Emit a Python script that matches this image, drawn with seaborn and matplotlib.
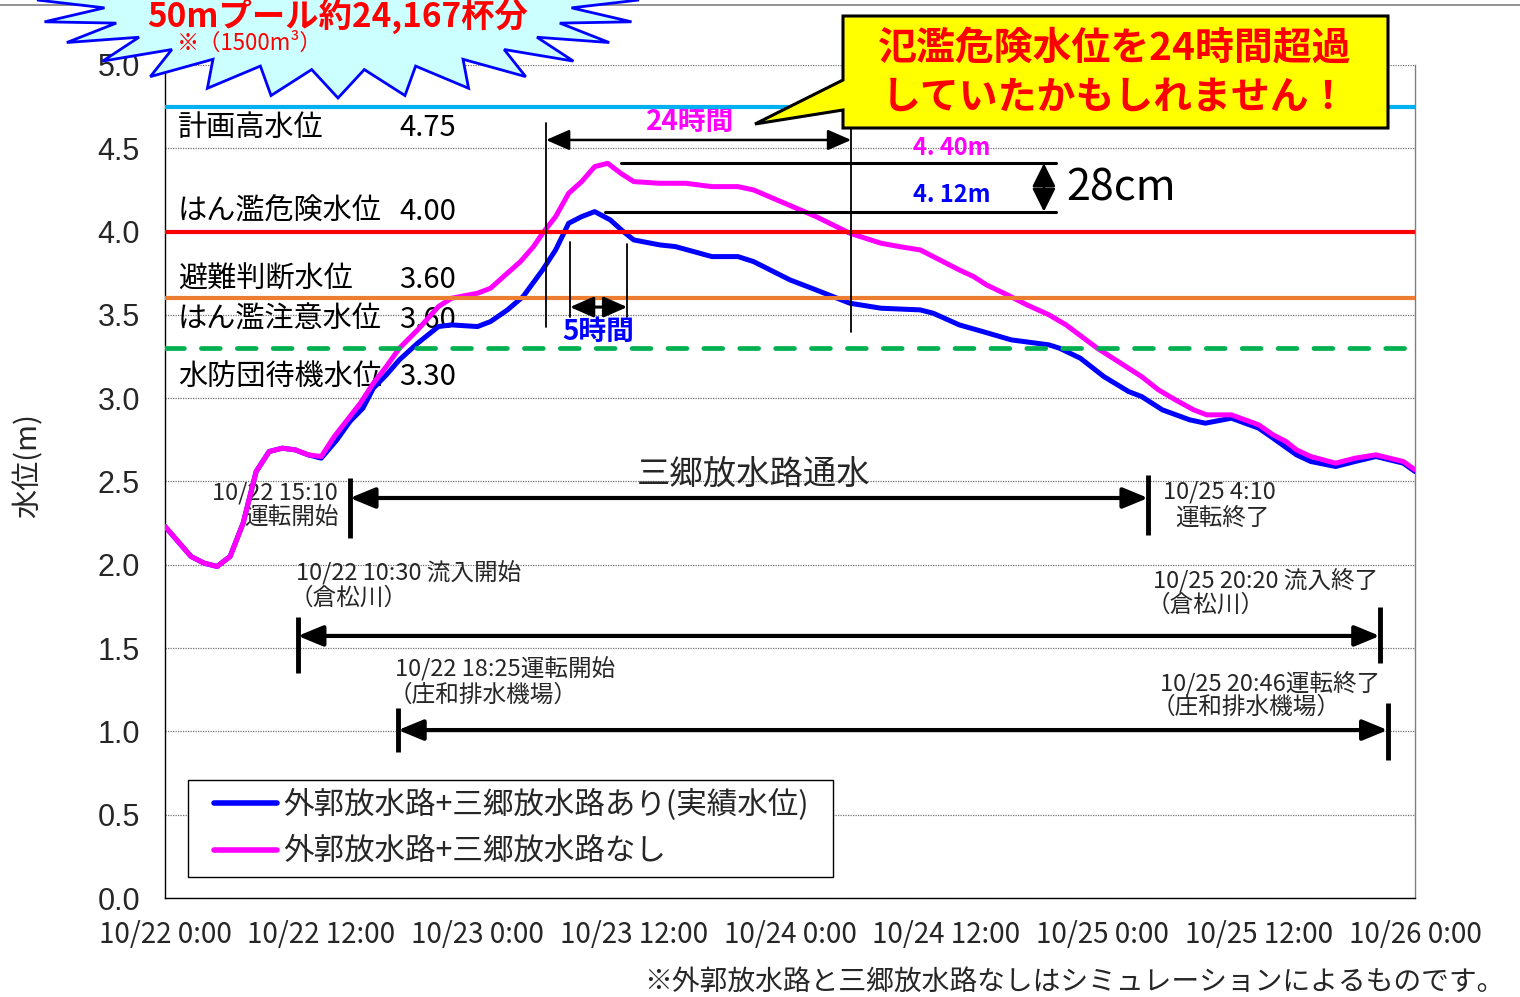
import numpy as np
import pandas as pd
import matplotlib.pyplot as plt
import seaborn as sns
from matplotlib.patches import Polygon, Rectangle

# --- DATA: hours after 10/22 0:00 and water level (m) ---
HOURS_WITH = [0, 2, 3, 4, 5, 6, 7, 8, 9, 10, 11, 12, 13.2, 14.2, 15.2, 16, 17, 18, 19.4, 21,
              22, 24, 25, 26.3, 27.5, 29, 30, 31, 32, 33, 34.2, 35.2, 36, 38, 39.2, 42, 44, 45.2, 48, 50,
              51.3, 52.6, 55, 58, 59, 61, 62.8, 65, 67.9, 68.7, 70.3, 72.1, 74, 75, 76.6, 78.7, 79.9, 81.9, 84, 85.1,
              86.9, 88, 89.9, 91.4, 93, 95.1, 96]
LEVEL_WITH = [2.23, 2.05, 2.01, 1.99, 2.05, 2.25, 2.56, 2.68, 2.70, 2.69, 2.66, 2.64, 2.75, 2.86, 2.94, 3.06, 3.14, 3.23, 3.33, 3.43,
              3.44, 3.43, 3.46, 3.53, 3.61, 3.77, 3.89, 4.05, 4.09, 4.12, 4.07, 4.00, 3.95, 3.92, 3.91, 3.85, 3.85, 3.82, 3.71, 3.65,
              3.61, 3.57, 3.54, 3.53, 3.51, 3.44, 3.40, 3.35, 3.32, 3.30, 3.24, 3.13, 3.04, 3.01, 2.93, 2.87, 2.85, 2.88, 2.82, 2.76,
              2.66, 2.62, 2.59, 2.62, 2.65, 2.61, 2.56]

HOURS_WITHOUT = [0, 2, 3, 4, 5, 6, 7, 8, 9, 10, 11, 12, 13, 14, 15, 16, 17, 18, 19.4, 21,
                 22, 24, 25, 26, 27.3, 28.3, 29, 30, 31, 32, 33, 34, 35, 36, 38, 40, 42, 44, 45.2, 46.7,
                 48.2, 50, 51.3, 52.6, 55, 56.4, 58, 59.5, 61, 62.1, 63.1, 64.7, 66.2, 67.9, 69.2, 70.4, 71.6, 73, 74, 75,
                 76.3, 77.6, 79, 80, 81.9, 84, 85.1, 86.1, 86.9, 88, 89.9, 91.4, 93, 95.1, 96]
LEVEL_WITHOUT = [2.23, 2.05, 2.01, 1.99, 2.05, 2.25, 2.56, 2.68, 2.70, 2.69, 2.66, 2.65, 2.77, 2.87, 2.97, 3.09, 3.19, 3.30, 3.41, 3.55,
                 3.60, 3.63, 3.66, 3.73, 3.82, 3.91, 3.99, 4.09, 4.23, 4.30, 4.39, 4.41, 4.35, 4.30, 4.29, 4.29, 4.27, 4.27, 4.25, 4.20,
                 4.15, 4.09, 4.04, 3.99, 3.93, 3.91, 3.89, 3.83, 3.77, 3.73, 3.68, 3.62, 3.56, 3.50, 3.44, 3.37, 3.30, 3.23, 3.18, 3.13,
                 3.05, 2.99, 2.93, 2.90, 2.90, 2.84, 2.78, 2.74, 2.69, 2.65, 2.61, 2.64, 2.66, 2.62, 2.57]

SERIES_LABELS = ["外郭放水路+三郷放水路あり(実績水位)", "外郭放水路+三郷放水路なし"]
SERIES_COLORS = ["#0000FF", "#FF00FF"]

X_TICKS = [0, 12, 24, 36, 48, 60, 72, 84, 96]
X_TICK_LABELS = ["10/22 0:00", "10/22 12:00", "10/23 0:00", "10/23 12:00", "10/24 0:00",
                 "10/24 12:00", "10/25 0:00", "10/25 12:00", "10/26 0:00"]
Y_TICKS = [0.0, 0.5, 1.0, 1.5, 2.0, 2.5, 3.0, 3.5, 4.0, 4.5, 5.0]

LEVEL_NAMES = ["計画高水位", "はん濫危険水位", "避難判断水位", "はん濫注意水位", "水防団待機水位"]
LEVEL_TEXTS = ["4.75", "4.00", "3.60", "3.60", "3.30"]
LEVEL_TEXT_Y = [4.62, 4.12, 3.71, 3.47, 3.13]
LINE_LEVELS = [4.75, 4.00, 3.60, 3.30]
LINE_COLORS = ["#00B0F0", "#FF0000", "#ED7D31", "#00B050"]

# operation periods as drawn on the chart (hours)
MISATO_SPAN = (14.2, 75.5)
KURAMATSU_SPAN = (10.2, 93.3)
SHOWA_SPAN = (17.9, 93.9)
OVER_24H = (29.26, 52.7)
OVER_5H = (31.1, 35.5)

FONT = ["Noto Sans CJK JP", "DejaVu Sans"]

sns.set_theme(style="white")
plt.rcParams["font.family"] = FONT

W, H = 1520, 997
fig = plt.figure(figsize=(W / 100, H / 100), dpi=100)
ax = fig.add_axes([165 / W, 1 - 898 / H, 1250 / W, 833 / H])


def fpx(x, y):
    return (x / W, 1 - y / H)


# --- curves ---
sns.lineplot(x=HOURS_WITH, y=LEVEL_WITH, ax=ax, color=SERIES_COLORS[0], lw=3.6,
             label=SERIES_LABELS[0], estimator=None, zorder=3)
sns.lineplot(x=HOURS_WITHOUT, y=LEVEL_WITHOUT, ax=ax, color=SERIES_COLORS[1], lw=3.6,
             label=SERIES_LABELS[1], estimator=None, zorder=4)

# --- threshold lines ---
for lv, col in zip(LINE_LEVELS, LINE_COLORS):
    if lv == 3.30:
        ax.axhline(lv, color=col, lw=3.4, dashes=(4, 3.6), dash_capstyle="round", zorder=5)
    else:
        ax.axhline(lv, color=col, lw=3.0, zorder=5)

for name, txt, y in zip(LEVEL_NAMES, LEVEL_TEXTS, LEVEL_TEXT_Y):
    ax.text(1.0, y, name, fontsize=21, va="center", ha="left", color="black", zorder=2)
    ax.text(18.0, y, txt, fontsize=21, va="center", ha="left", color="black", zorder=2)

# --- axes styling ---
ax.set_xlim(0, 96)
ax.set_ylim(0, 5.0)
ax.set_xticks(X_TICKS)
ax.set_xticklabels(X_TICK_LABELS, fontsize=20)
ax.set_yticks(Y_TICKS)
ax.set_yticklabels([f"{v:.1f}" for v in Y_TICKS], fontsize=22, family="Liberation Sans")
ax.tick_params(axis="x", direction="in", length=9, width=1, color="#909090", pad=16)
ax.tick_params(axis="y", length=0, pad=18)
ax.grid(axis="y", color="#707070", linestyle=(0, (1, 1)), lw=0.9)
ax.set_axisbelow(True)
ax.spines["top"].set_visible(False)
ax.spines["right"].set_color("#808080")
ax.spines["left"].set_color("black")
ax.spines["bottom"].set_color("black")
for s in ["left", "bottom", "right"]:
    ax.spines[s].set_linewidth(1.0)
ax.set_xlabel("")
ax.set_ylabel("水位(m)", fontsize=21, va="center")
ax.yaxis.set_label_coords(-0.1096, 0.519)

# --- over-threshold spans ---
k = dict(color="black", lw=1.3, zorder=6)
ax.plot([OVER_24H[0]] * 2, [3.43, 4.65], **k)
ax.plot([OVER_24H[1]] * 2, [3.40, 4.62], **k)
ax.annotate("", xy=(OVER_24H[1], 4.55), xytext=(OVER_24H[0], 4.55),
            arrowprops=dict(arrowstyle="<|-|>,head_length=0.8,head_width=0.35", lw=1.8, color="black",
                            shrinkA=0, shrinkB=0, mutation_scale=18), zorder=6)
ax.text(40.3, 4.66, "24時間", color="#FF00FF", fontsize=20, fontweight="bold", ha="center", va="center")

ax.plot([OVER_5H[0]] * 2, [3.487, 3.938], **k)
ax.plot([OVER_5H[1]] * 2, [3.487, 3.926], **k)
ax.annotate("", xy=(OVER_5H[1], 3.547), xytext=(OVER_5H[0], 3.547),
            arrowprops=dict(arrowstyle="<|-|>,head_length=0.8,head_width=0.35", lw=2.2, color="black",
                            shrinkA=0, shrinkB=0, mutation_scale=18), zorder=6)
ax.text(33.25, 3.40, "5時間", color="#0000FF", fontsize=20, fontweight="bold", ha="center", va="center", zorder=7)

# --- peak comparison ---
peak_without = max(LEVEL_WITHOUT)
peak_with = max(LEVEL_WITH)
ax.plot([35.0, 68.4], [peak_without, peak_without], color="black", lw=2.2, zorder=6)
ax.plot([33.8, 68.4], [peak_with, peak_with], color="black", lw=2.2, zorder=6)
ax.text(60.4, 4.50, "4. 40m", color="#FF00FF", fontsize=17, fontweight="bold", ha="center", va="center")
ax.text(60.4, 4.22, "4. 12m", color="#0000FF", fontsize=17, fontweight="bold", ha="center", va="center")
ax.annotate("", xy=(67.5, peak_with), xytext=(67.5, peak_without),
            arrowprops=dict(arrowstyle="<|-|>,head_length=0.9,head_width=0.45", lw=1.8, color="black",
                            shrinkA=0, shrinkB=0, mutation_scale=16), zorder=6)
ax.text(69.2, 4.26, "28cm", color="black", fontsize=31, ha="left", va="center")


# --- operation periods ---
def period(span, y, y_left, y_right):
    ax.plot([span[0]] * 2, y_left, color="black", lw=3.5, solid_capstyle="butt", zorder=6)
    ax.plot([span[1]] * 2, y_right, color="black", lw=3.5, solid_capstyle="butt", zorder=6)
    ax.annotate("", xy=(span[1], y), xytext=(span[0], y),
                arrowprops=dict(arrowstyle="<|-|>,head_length=0.8,head_width=0.33", lw=3, color="black",
                                shrinkA=0, shrinkB=0, mutation_scale=19), zorder=6)


period(MISATO_SPAN, 2.401, [2.161, 2.521], [2.179, 2.539])
ax.text(45.2, 2.545, "三郷放水路通水", fontsize=24, ha="center", va="center")
ax.text(13.3, 2.43, "10/22 15:10", fontsize=17, ha="right", va="center")
ax.text(13.3, 2.28, "運転開始", fontsize=17, ha="right", va="center")
ax.text(81.0, 2.437, "10/25 4:10", fontsize=17, ha="center", va="center")
ax.text(81.2, 2.28, "運転終了", fontsize=17, ha="center", va="center")

period(KURAMATSU_SPAN, 1.573, [1.351, 1.687], [1.411, 1.747])
ax.text(10.06, 1.95, "10/22 10:30 流入開始", fontsize=17, ha="left", va="center")
ax.text(9.6, 1.80, "（倉松川）", fontsize=17, ha="left", va="center")
ax.text(75.9, 1.91, "10/25 20:20 流入終了", fontsize=17, ha="left", va="center")
ax.text(75.4, 1.76, "（倉松川）", fontsize=17, ha="left", va="center")

period(SHOWA_SPAN, 1.008, [0.876, 1.140], [0.828, 1.170])
ax.text(17.66, 1.37, "10/22 18:25運転開始", fontsize=17, ha="left", va="center")
ax.text(17.2, 1.22, "（庄和排水機場）", fontsize=17, ha="left", va="center")
ax.text(76.4, 1.29, "10/25 20:46運転終了", fontsize=17, ha="left", va="center")
ax.text(75.8, 1.146, "（庄和排水機場）", fontsize=17, ha="left", va="center")

# --- legend (frame drawn separately to match the original padding) ---
ax.add_patch(Rectangle(fpx(188, 877), 645 / W, 97 / H, transform=fig.transFigure,
                       facecolor="white", edgecolor="black", lw=1.0, zorder=2, clip_on=False))
leg = ax.legend(loc="center left", bbox_to_anchor=((214 - 165) / 1250, (898 - 828) / 833), fontsize=22,
                frameon=False, handlelength=2.05, handletextpad=0.2, labelspacing=0.5,
                borderpad=0, borderaxespad=0)
for line in leg.get_lines():
    line.set_linewidth(4)

# --- starburst banner ---
n = 28
pts = []
for i in range(2 * n):
    t = np.deg2rad(90 + i * 180 / n)
    rx, ry = (301, 98) if i % 2 == 0 else (235, 70)
    pts.append(fpx(338 + rx * np.cos(t), ry * np.sin(t)))
burst = Polygon(pts, closed=True, transform=fig.transFigure, facecolor="#CCFFFF",
                edgecolor="#0000FF", lw=2, zorder=10, clip_on=False)
fig.add_artist(burst)
fig.text(*fpx(338, 27), "50mプール約24,167杯分", color="#FF0000", fontsize=24, fontweight="bold",
         ha="center", va="baseline", zorder=11)
fig.text(*fpx(177, 50), "※（1500m³）", color="#FF0000", fontsize=16, ha="left", va="baseline", zorder=11)

# --- callout box ---
box = [(843, 16), (1388, 16), (1388, 128), (843, 128), (843, 110), (755, 124), (843, 80)]
callout = Polygon([fpx(x, y) for x, y in box], closed=True, transform=fig.transFigure,
                  facecolor="#FFFF00", edgecolor="black", lw=2.2, zorder=10)
fig.add_artist(callout)
fig.text(*fpx(1115, 48), "氾濫危険水位を24時間超過", color="#FF0000", fontsize=28, fontweight="bold",
         ha="center", va="center", zorder=11)
fig.text(*fpx(1115, 97), "していたかもしれません！", color="#FF0000", fontsize=28, fontweight="bold",
         ha="center", va="center", zorder=11)

# --- page border & footnote ---
fig.add_artist(plt.Line2D([0, 1], [1 - 5 / H] * 2, transform=fig.transFigure, color="#808080", lw=1.2))
fig.text(*fpx(1505, 982), "※外郭放水路と三郷放水路なしはシミュレーションによるものです。",
         fontsize=20, ha="right", va="center")

fig.savefig("out.png", dpi=100)
